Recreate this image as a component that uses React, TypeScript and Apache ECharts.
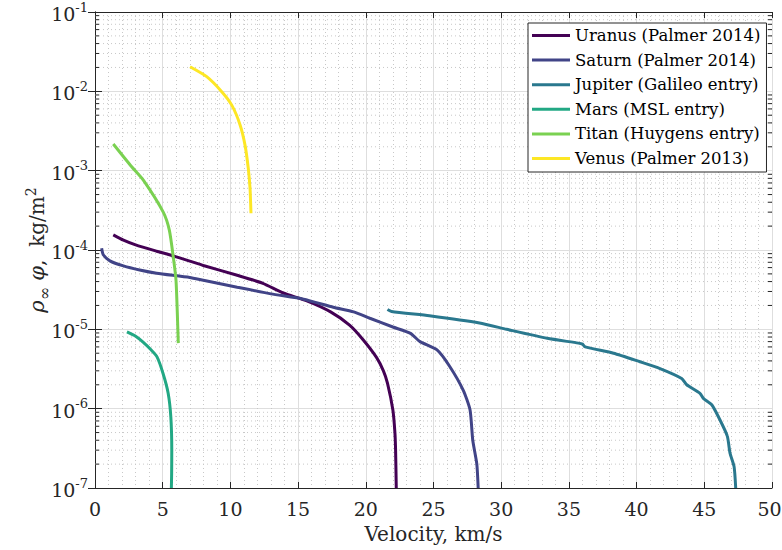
import React, { useEffect, useRef } from "react";
import * as echarts from "echarts";

const seriesNames = [
  "Uranus (Palmer 2014)",
  "Saturn (Palmer 2014)",
  "Jupiter (Galileo entry)",
  "Mars (MSL entry)",
  "Titan (Huygens entry)",
  "Venus (Palmer 2013)",
];
const seriesColors = ["#440154", "#414487", "#2a788e", "#22a884", "#7ad151", "#fde725"];

const uranus = [
  [1.35, 1.55e-4], [2.1, 1.33e-4], [3.0, 1.16e-4], [4.55, 9.66e-5], [5.5, 8.7e-5],
  [7.0, 7.24e-5], [8.0, 6.38e-5], [10.5, 4.8e-5], [12.4, 3.8e-5], [13.9, 2.87e-5],
  [15.6, 2.3e-5], [17.4, 1.66e-5], [18.8, 1.13e-5], [19.8, 7.4e-6], [20.8, 4.4e-6],
  [21.3, 3.0e-6], [21.6, 2.1e-6], [22.0, 9.6e-7], [22.15, 5e-7], [22.2, 3.0e-7], [22.25, 1e-7],
];
const saturn = [
  [0.49, 1.05e-4], [0.61, 8.7e-5], [1.1, 7.3e-5], [2.1, 6.3e-5], [3.3, 5.6e-5],
  [4.55, 5.1e-5], [7.0, 4.5e-5], [8.0, 4.15e-5], [10.5, 3.4e-5], [13.0, 2.8e-5],
  [15.4, 2.4e-5], [17.6, 1.9e-5], [19.1, 1.66e-5], [20.3, 1.38e-5], [22.0, 1.07e-5],
  [23.3, 8.9e-6], [24.0, 7.0e-6], [25.26, 5.5e-6], [26.2, 3.4e-6], [27.2, 1.7e-6],
  [27.7, 9.6e-7], [27.9, 4.0e-7], [28.2, 2.0e-7], [28.3, 1e-7],
];
const jupiter = [
  [21.6, 1.78e-5], [21.9, 1.68e-5], [24.7, 1.48e-5], [28.4, 1.2e-5], [30.4, 1.0e-5],
  [33.4, 7.7e-6], [35.7, 6.7e-6], [36.0, 6.5e-6], [36.2, 6.0e-6], [38.3, 5.0e-6],
  [40.25, 3.9e-6], [41.73, 3.2e-6], [43.33, 2.4e-6], [43.7, 2.0e-6], [44.68, 1.56e-6],
  [44.93, 1.35e-6], [45.55, 1.12e-6], [46.16, 7.2e-7], [46.7, 4.5e-7], [46.9, 2.75e-7],
  [47.2, 1.86e-7], [47.32, 1e-7],
];
const mars = [
  [2.36, 9.3e-6], [3.0, 8.2e-6], [3.55, 6.9e-6], [4.1, 5.6e-6], [4.58, 4.5e-6],
  [5.02, 2.8e-6], [5.4, 1.58e-6], [5.6, 7.9e-7], [5.67, 3.0e-7], [5.66, 1.5e-7], [5.64, 1e-7],
];
const titan = [
  [1.35, 2.17e-3], [2.71, 1.12e-3], [3.57, 7.6e-4], [5.04, 3.0e-4], [5.49, 1.78e-4],
  [5.78, 8.2e-5], [5.98, 4.2e-5], [6.08, 1.6e-5], [6.15, 6.7e-6],
];
const venus = [
  [7.02, 0.0204], [8.25, 0.0153], [9.36, 0.0099], [10.1, 0.0067], [10.71, 0.0038],
  [11.08, 0.0021], [11.32, 0.00107], [11.45, 6.0e-4], [11.52, 2.9e-4],
];
const seriesData = [uranus, saturn, jupiter, mars, titan, venus];

const xMin = 0;
const xMax = 50;
const xInterval = 5;
const yMin = 1e-7;
const yMax = 1e-1;
const decadeExponents = [-7, -6, -5, -4, -3, -2];
const minorMantissas = [2, 3, 4, 5, 6, 7, 8, 9];

const FONT = "DejaVu Serif";
const INK = "#262626";

export default function App() {
  const ref = useRef<HTMLDivElement>(null);
  useEffect(() => {
    if (!ref.current) return;
    const chart = echarts.init(ref.current, undefined, { renderer: "svg" });

    const minorValues: number[][] = [];
    decadeExponents.forEach((e) => {
      minorMantissas.forEach((m) => minorValues.push([xMin, m * Math.pow(10, e)]));
    });

    const tickRich = {
      b: { fontFamily: FONT, fontSize: 19, color: INK, lineHeight: 23, verticalAlign: "bottom" },
      s: { fontFamily: FONT, fontSize: 13, color: INK, lineHeight: 13, verticalAlign: "top" },
    };

    const option: any = {
      animation: false,
      backgroundColor: "#fff",
      textStyle: { fontFamily: FONT },
      grid: {
        left: 95, right: 10, top: 12, bottom: 62,
        containLabel: false,
        outerBoundsMode: "none",
      },
      legend: {
        data: seriesNames,
        orient: "vertical",
        left: 528,
        top: 23,
        padding: [2, 6, 3, 4],
        itemGap: 3.6,
        itemWidth: 38,
        itemHeight: 3,
        icon: "rect",
        backgroundColor: "#fff",
        borderColor: INK,
        borderWidth: 1,
        borderRadius: 0,
        textStyle: { fontFamily: FONT, fontSize: 16.5, color: "#000", lineHeight: 21 },
      },
      xAxis: [
        {
          type: "value",
          min: xMin,
          max: xMax,
          interval: xInterval,
          name: "Velocity, km/s",
          nameLocation: "middle",
          nameGap: 36,
          nameTextStyle: { fontFamily: FONT, fontSize: 20, color: INK },
          axisLine: { show: true, lineStyle: { color: INK, width: 1 } },
          axisTick: { show: true, inside: true, length: 6, lineStyle: { color: INK } },
          axisLabel: {
            fontFamily: FONT,
            fontSize: 19,
            color: INK,
            margin: 11,
            formatter: (v: number) => (v === xMax ? `{m|${v}}` : `${v}`),
            rich: { m: { fontFamily: FONT, fontSize: 19, color: INK, padding: [0, 5, 0, 0] } },
          },
          splitLine: { show: true, lineStyle: { color: "#dedede", width: 1 } },
          minorTick: { show: false, splitNumber: 5 },
          minorSplitLine: { show: true, lineStyle: { color: "#c8c8c8", width: 1, type: [1, 3] } },
        },
        {
          type: "value",
          position: "top",
          min: xMin,
          max: xMax,
          interval: xInterval,
          axisLine: { show: true, lineStyle: { color: INK, width: 1 } },
          axisTick: { show: true, inside: true, length: 6, lineStyle: { color: INK } },
          axisLabel: { show: false },
          splitLine: { show: false },
        },
      ],
      yAxis: [
        {
          type: "log",
          logBase: 10,
          min: yMin,
          max: yMax,
          axisLine: { show: true, lineStyle: { color: INK, width: 1 } },
          axisTick: { show: true, inside: true, length: 7, lineStyle: { color: INK } },
          axisLabel: {
            margin: 7,
            formatter: (v: number) => `{b|10}{s|${Math.round(Math.log10(v))}}`,
            rich: tickRich,
          },
          splitLine: { show: true, lineStyle: { color: "#dedede", width: 1 } },
        },
        {
          type: "log",
          logBase: 10,
          position: "right",
          min: yMin,
          max: yMax,
          axisLine: { show: true, lineStyle: { color: INK, width: 1 } },
          axisTick: { show: true, inside: true, length: 7, lineStyle: { color: INK } },
          axisLabel: { show: false },
          splitLine: { show: false },
        },
      ],
      graphic: [
        {
          type: "text",
          x: 37,
          y: 250,
          rotation: Math.PI / 2,
          style: {
            text: "{i|ρ}{sub|∞}{n| }{i|φ}{n|,  kg/m}{sup|2}",
            align: "center",
            verticalAlign: "middle",
            fill: INK,
            rich: {
              i: { fontFamily: FONT, fontStyle: "italic", fontSize: 21, lineHeight: 38, verticalAlign: "middle", fill: INK },
              n: { fontFamily: FONT, fontSize: 20, lineHeight: 38, verticalAlign: "middle", fill: INK },
              sub: { fontFamily: FONT, fontSize: 16, lineHeight: 16, verticalAlign: "bottom", fill: INK, padding: [0, 0, 4, 0] },
              sup: { fontFamily: FONT, fontSize: 14, lineHeight: 14, verticalAlign: "top", fill: INK, padding: [6, 0, 0, 0] },
            },
          },
        },
      ],
      series: [
        {
          name: "__minor",
          type: "custom",
          coordinateSystem: "cartesian2d",
          xAxisIndex: 0,
          yAxisIndex: 0,
          silent: true,
          z: 1,
          clip: false,
          data: minorValues,
          renderItem: (params: any, api: any) => {
            const v = api.value(1);
            const p0 = api.coord([xMin, v]);
            const p1 = api.coord([xMax, v]);
            return {
              type: "group",
              children: [
                {
                  type: "line",
                  shape: { x1: p0[0], y1: p0[1], x2: p1[0], y2: p1[1] },
                  style: { stroke: "#c8c8c8", lineWidth: 1, lineDash: [1, 3] },
                },
                {
                  type: "line",
                  shape: { x1: p0[0], y1: p0[1], x2: p0[0] + 4, y2: p0[1] },
                  style: { stroke: INK, lineWidth: 1 },
                },
                {
                  type: "line",
                  shape: { x1: p1[0] - 4, y1: p1[1], x2: p1[0], y2: p1[1] },
                  style: { stroke: INK, lineWidth: 1 },
                },
              ],
            };
          },
        },
        ...seriesNames.map((name, i) => ({
          name,
          type: "line",
          xAxisIndex: 0,
          yAxisIndex: 0,
          data: seriesData[i],
          showSymbol: false,
          symbol: "none",
          smooth: 0.2,
          z: 3 + i,
          lineStyle: { color: seriesColors[i], width: 3 },
          itemStyle: { color: seriesColors[i] },
        })),
      ],
    };
    chart.setOption(option);
    return () => chart.dispose();
  }, []);
  return (
    <div
      ref={ref}
      style={{ position: "fixed", left: 0, top: 0, width: 782, height: 550, background: "#fff" }}
    />
  );
}
